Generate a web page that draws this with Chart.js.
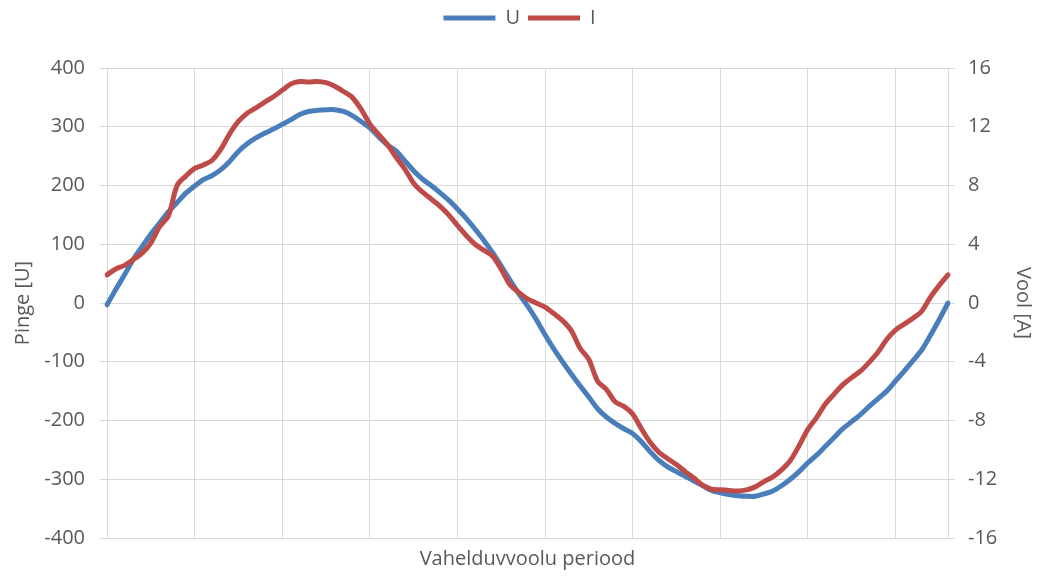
<!DOCTYPE html>
<html>
<head>
<meta charset="utf-8">
<script src="https://cdn.jsdelivr.net/npm/chart.js@4/dist/chart.umd.min.js"></script>
<style>
  html, body { margin: 0; padding: 0; background: #ffffff; }
  #wrap { width: 1039px; height: 576px; }
</style>
</head>
<body>
<div id="wrap"><canvas id="chart" width="1039" height="576"></canvas></div>
<script>
// Sample numbers across one period
const samples = Array.from({ length: 97 }, (_, i) => i);

// Voltage U [V]
const voltage = [
  -3, 23, 48, 74, 96, 117, 136, 155, 171, 187,
  199, 210, 217, 227, 241, 258, 271, 281, 289, 296,
  304, 312, 321, 326, 328, 329, 329, 326, 319, 309,
  298, 283, 269, 259, 242, 225, 211, 200, 188, 175,
  160, 144, 126, 107, 86, 63, 39, 16, -5, -28,
  -54, -78, -100, -121, -141, -160, -180, -194, -205, -214,
  -222, -236, -253, -268, -279, -287, -295, -303, -311, -319,
  -323, -326, -328, -329, -329, -325, -320, -311, -300, -287,
  -272, -259, -244, -229, -214, -202, -190, -176, -163, -150,
  -133, -116, -98, -80, -55, -28, 0
];

// Current I [A]
const current = [
  1.92, 2.32, 2.56, 2.96, 3.40, 4.08, 5.20, 5.92, 8.00, 8.64,
  9.16, 9.40, 9.72, 10.48, 11.52, 12.36, 12.92, 13.28, 13.68, 14.04,
  14.48, 14.92, 15.08, 15.04, 15.08, 15.00, 14.76, 14.40, 14.00, 13.20,
  12.20, 11.48, 10.80, 9.92, 9.12, 8.16, 7.56, 7.08, 6.60, 6.00,
  5.28, 4.60, 4.00, 3.60, 3.20, 2.30, 1.24, 0.72, 0.28, 0.00,
  -0.28, -0.72, -1.20, -1.88, -3.08, -3.84, -5.32, -5.88, -6.72, -7.04,
  -7.56, -8.56, -9.48, -10.16, -10.60, -11.00, -11.48, -11.92, -12.40, -12.68,
  -12.72, -12.76, -12.80, -12.72, -12.52, -12.16, -11.84, -11.36, -10.72, -9.72,
  -8.60, -7.80, -6.88, -6.20, -5.56, -5.08, -4.64, -4.04, -3.36, -2.48,
  -1.84, -1.44, -1.04, -0.56, 0.40, 1.20, 1.92
];

// Axis tick values
const voltageTicks = [-400, -300, -200, -100, 0, 100, 200, 300, 400];
const currentTicks = [-16, -12, -8, -4, 0, 4, 8, 12, 16];

const TEXT = '#595959';
const GRID = '#d9d9d9';
const FONT = { family: "'Open Sans', 'DejaVu Sans', sans-serif", size: 20 };

new Chart(document.getElementById('chart'), {
  type: 'line',
  data: {
    labels: samples,
    datasets: [
      {
        label: 'U',
        data: voltage,
        yAxisID: 'y',
        borderColor: '#4a7ebb',
        backgroundColor: '#4a7ebb',
        borderWidth: 5,
        borderCapStyle: 'round',
        borderJoinStyle: 'round',
        pointRadius: 0,
        tension: 0.3,
        order: 1
      },
      {
        label: 'I',
        data: current,
        yAxisID: 'y1',
        borderColor: '#be4b48',
        backgroundColor: '#be4b48',
        borderWidth: 5,
        borderCapStyle: 'round',
        borderJoinStyle: 'round',
        pointRadius: 0,
        tension: 0.3,
        order: 0
      }
    ]
  },
  options: {
    responsive: false,
    animation: false,
    devicePixelRatio: 1,
    layout: { padding: 0 },
    plugins: {
      legend: {
        position: 'top',
        labels: {
          usePointStyle: true,
          pointStyle: 'line',
          pointStyleWidth: 52,
          color: TEXT,
          font: FONT,
          padding: 8,
          sort: (a, b) => a.datasetIndex - b.datasetIndex
        }
      },
      // empty spacer between the legend and the plot
      title: { display: true, text: '', weight: 500, padding: 0, font: { size: 30, lineHeight: 1 } },
      tooltip: { enabled: false }
    },
    scales: {
      x: {
        type: 'category',
        offset: false,
        ticks: { display: false, autoSkip: false },
        grid: {
          color: c => (c.index % 10 === 0 ? GRID : 'rgba(0,0,0,0)'),
          lineWidth: 1,
          drawTicks: false
        },
        border: { color: GRID, width: 1 },
        title: { display: true, text: 'Vahelduvvoolu periood', color: TEXT, font: FONT, padding: { top: 0, bottom: 5 } },
        afterFit: s => { s.height = 38; }
      },
      y: {
        type: 'linear',
        position: 'left',
        min: -400,
        max: 400,
        afterBuildTicks: a => { a.ticks = voltageTicks.map(v => ({ value: v })); },
        ticks: { color: TEXT, font: FONT, padding: 15 },
        grid: { color: GRID, lineWidth: 1, tickLength: 7, drawTicks: true },
        border: { color: GRID, width: 1 },
        title: { display: true, text: 'Pinge [U]', color: TEXT, font: FONT, padding: { top: 11, bottom: 0 } },
        afterFit: s => { s.width = 107; }
      },
      y1: {
        type: 'linear',
        position: 'right',
        min: -16,
        max: 16,
        afterBuildTicks: a => { a.ticks = currentTicks.map(v => ({ value: v })); },
        ticks: { color: TEXT, font: FONT, padding: 13 },
        grid: { color: GRID, lineWidth: 1, tickLength: 7, drawTicks: true, drawOnChartArea: false },
        border: { color: GRID, width: 1 },
        title: { display: true, text: 'Vool [A]', color: TEXT, font: FONT, padding: { top: 4, bottom: 0 } },
        afterFit: s => { s.width = 91; }
      }
    }
  }
});
</script>
</body>
</html>
